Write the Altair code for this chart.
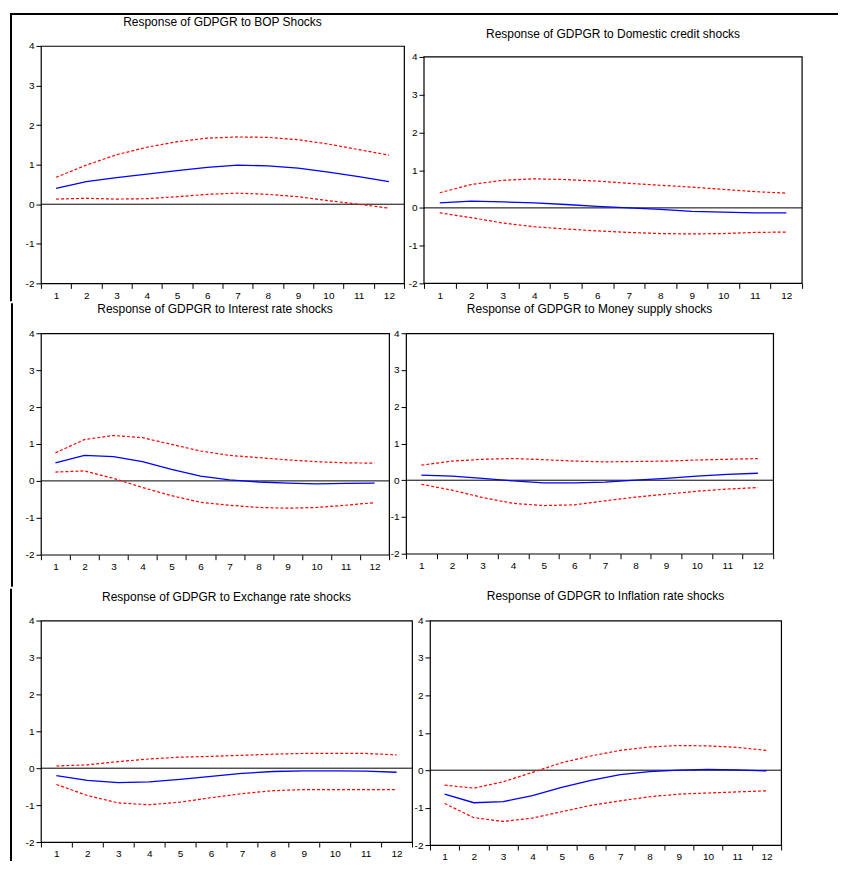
import altair as alt
import pandas as pd

periods = list(range(1, 13))

titles = [
    "Response of GDPGR to BOP Shocks",
    "Response of GDPGR to Domestic credit shocks",
    "Response of GDPGR to Interest rate shocks",
    "Response of GDPGR to Money supply shocks",
    "Response of GDPGR to Exchange rate shocks",
    "Response of GDPGR to Inflation rate shocks",
]

bop_resp = [0.40, 0.57, 0.67, 0.76, 0.85, 0.93, 0.99, 0.97, 0.91, 0.81, 0.70, 0.57]
bop_upper = [0.68, 0.99, 1.25, 1.44, 1.58, 1.67, 1.70, 1.69, 1.63, 1.52, 1.38, 1.24]
bop_lower = [0.13, 0.15, 0.13, 0.14, 0.19, 0.25, 0.28, 0.25, 0.19, 0.09, 0.00, -0.10]

dc_resp = [0.13, 0.18, 0.16, 0.13, 0.09, 0.04, 0.00, -0.04, -0.09, -0.11, -0.13, -0.13]
dc_upper = [0.40, 0.62, 0.73, 0.77, 0.75, 0.71, 0.65, 0.60, 0.55, 0.49, 0.43, 0.39]
dc_lower = [-0.13, -0.26, -0.40, -0.50, -0.56, -0.61, -0.65, -0.68, -0.69, -0.68, -0.65, -0.64]

ir_resp = [0.49, 0.69, 0.66, 0.52, 0.31, 0.13, 0.03, -0.03, -0.06, -0.08, -0.07, -0.06]
ir_upper = [0.76, 1.12, 1.23, 1.17, 0.99, 0.81, 0.69, 0.63, 0.57, 0.52, 0.49, 0.48]
ir_lower = [0.24, 0.27, 0.07, -0.18, -0.40, -0.58, -0.66, -0.72, -0.74, -0.72, -0.66, -0.59]

ms_resp = [0.14, 0.11, 0.05, -0.02, -0.07, -0.07, -0.05, 0.00, 0.05, 0.11, 0.16, 0.19]
ms_upper = [0.41, 0.52, 0.57, 0.59, 0.56, 0.52, 0.50, 0.51, 0.52, 0.55, 0.57, 0.59]
ms_lower = [-0.11, -0.27, -0.47, -0.63, -0.69, -0.67, -0.56, -0.46, -0.38, -0.30, -0.24, -0.20]

ex_resp = [-0.20, -0.33, -0.39, -0.37, -0.30, -0.22, -0.14, -0.09, -0.07, -0.07, -0.08, -0.11]
ex_upper = [0.06, 0.09, 0.18, 0.25, 0.30, 0.32, 0.35, 0.38, 0.40, 0.40, 0.40, 0.36]
ex_lower = [-0.44, -0.74, -0.94, -0.99, -0.92, -0.80, -0.69, -0.61, -0.58, -0.58, -0.58, -0.58]

inf_resp = [-0.64, -0.87, -0.84, -0.68, -0.46, -0.27, -0.12, -0.04, 0.00, 0.02, 0.01, -0.02]
inf_upper = [-0.40, -0.48, -0.31, -0.06, 0.20, 0.38, 0.53, 0.62, 0.66, 0.65, 0.61, 0.53]
inf_lower = [-0.89, -1.27, -1.37, -1.28, -1.11, -0.94, -0.82, -0.71, -0.64, -0.61, -0.58, -0.55]

y_ticks = [-2, -1, 0, 1, 2, 3, 4]
FONT = "Liberation Sans"


def panel(title, resp, upper, lower, width, height, title_y, frame_rects, top_gap=0):
    df = pd.DataFrame({"period": periods, "resp": resp, "upper": upper, "lower": lower})
    x = alt.X(
        "period:O",
        title=None,
        bandPosition=0.5,
        scale=alt.Scale(type="band", paddingInner=0, paddingOuter=0),
        axis=alt.Axis(labelAngle=0, tickBand="extent"),
    )
    # top_gap: blank strip (px) above the framed plot box, used to lower its top edge
    ymax = 4 + top_gap * 6.0 / (height - top_gap)
    yscale = alt.Scale(domain=[-2, ymax], nice=False, zero=False)
    yaxis = alt.Axis(values=y_ticks, labelExpr="'' + datum.value", labelOverlap=False)

    def yenc(field):
        return alt.Y(field, scale=yscale, axis=yaxis, title=None)

    base = alt.Chart(df)
    zero = alt.Chart(pd.DataFrame({"zero": [0]})).mark_rule(
        color="black", strokeWidth=1
    ).encode(y=yenc("zero:Q"))
    up = base.mark_line(color="#FF0000", strokeDash=[3, 2], strokeWidth=1.2).encode(
        x=x, y=yenc("upper:Q")
    )
    lo = base.mark_line(color="#FF0000", strokeDash=[3, 2], strokeWidth=1.2).encode(
        x=x, y=yenc("lower:Q")
    )
    mid = base.mark_line(color="#0000FF", strokeWidth=1.3).encode(
        x=x, y=yenc("resp:Q")
    )
    head = alt.Chart(pd.DataFrame({"t": [title]})).mark_text(
        font=FONT, fontSize=12, color="black", align="center", baseline="alphabetic"
    ).encode(x=alt.value(width / 2), y=alt.value(title_y), text="t:N")
    layers = [zero, up, lo, mid, head]
    for (x1, x2, y1, y2) in frame_rects:
        layers.append(
            alt.Chart(pd.DataFrame({"k": [0]})).mark_rect(color="black").encode(
                x=alt.value(x1), x2=alt.value(x2), y=alt.value(y1), y2=alt.value(y2)
            )
        )
    if top_gap:
        layers.append(
            alt.Chart(pd.DataFrame({"k": [0]})).mark_rect(
                fillOpacity=0, stroke="black", strokeWidth=1.2
            ).encode(
                x=alt.value(0), x2=alt.value(width), y=alt.value(top_gap), y2=alt.value(height)
            )
        )
        return alt.layer(*layers).properties(
            width=width, height=height, view=alt.ViewBackground(strokeOpacity=0)
        )
    return alt.layer(*layers).properties(width=width, height=height)


p1 = panel(titles[0], bop_resp, bop_upper, bop_lower, 364, 238, -20,
           [(-31, 365.5, -33, -31), (-31, -29, -33, 256)])
p2 = panel(titles[1], dc_resp, dc_upper, dc_lower, 379, 238, -8,
           [(-19, 415, -33, -31)], top_gap=11)
p3 = panel(titles[2], ir_resp, ir_upper, ir_lower, 349, 222, -20,
           [(-30, -28, -30, 254)])
p4 = panel(titles[3], ms_resp, ms_upper, ms_lower, 368, 221, -20, [])
p5 = panel(titles[4], ex_resp, ex_upper, ex_lower, 372, 222, -20,
           [(-31, -29, -32, 241)])
p6 = panel(titles[5], inf_resp, inf_upper, inf_lower, 352, 225, -21, [])

row1 = alt.hconcat(p1, p2, spacing=-2)
row2 = alt.hconcat(p3, p4, spacing=-2)
row3 = alt.hconcat(p5, p6, spacing=-1)

chart = (
    alt.vconcat(row1, row2, row3, spacing=0)
    .properties(padding={"left": 1, "top": 3, "right": 0, "bottom": 0})
    .configure_view(stroke="black", strokeWidth=1.2)
    .configure_axis(
        labelFont=FONT,
        labelFontSize=10,
        labelColor="black",
        tickColor="black",
        tickSize=5,
        tickWidth=1,
        labelPadding=2,
        grid=False,
        domain=False,
    )
)

chart.save("out.html", embed_options={"renderer": "svg", "actions": False})
